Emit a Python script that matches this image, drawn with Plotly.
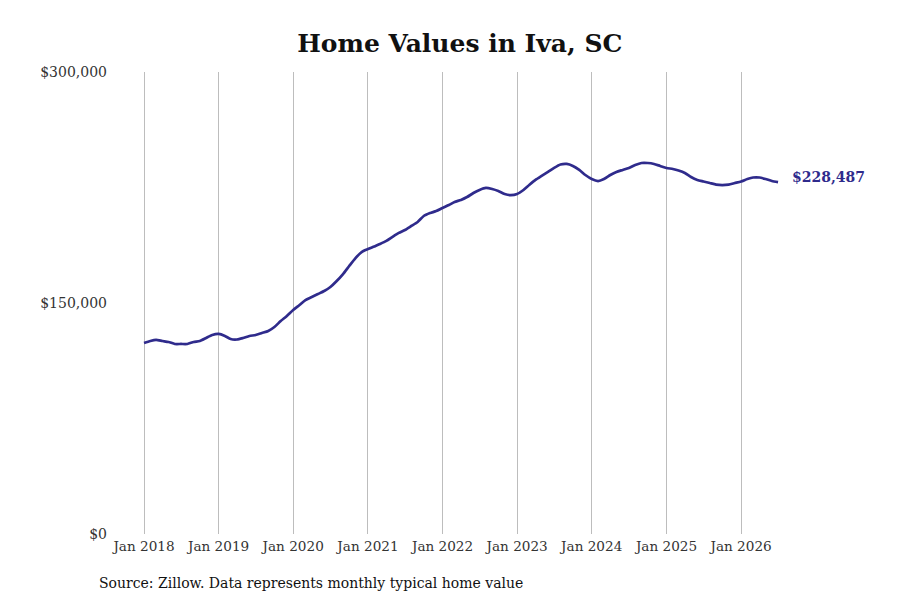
import plotly.graph_objects as go
import pandas as pd

dates = pd.date_range("2018-01-01", "2026-07-01", freq="MS")
values = [
    124.0, 125.3, 126.0, 125.3, 124.7, 123.4, 123.4, 123.4, 124.7, 125.3, 127.3, 129.2,
    129.9, 128.6, 126.6, 126.3, 127.3, 128.6, 129.2, 130.5, 131.8, 134.4, 138.3, 141.6,
    145.5, 148.7, 151.9, 153.9, 155.8, 157.8, 160.4, 164.3, 168.8, 174.0, 179.2, 183.1,
    185.0, 186.7, 188.3, 190.3, 192.9, 195.5, 197.4, 200.0, 202.6, 206.5, 208.4, 209.7,
    211.7, 213.6, 215.6, 216.9, 218.8, 221.4, 223.4, 224.7, 224.0, 222.7, 220.8, 220.1,
    220.8, 223.4, 226.6, 229.9, 232.5, 235.1, 237.7, 239.9, 240.3, 239.0, 236.4, 233.1,
    230.5, 229.2, 230.5, 233.1, 235.1, 236.4, 237.7, 239.6, 240.9, 240.9, 240.3, 239.0,
    237.7, 237.0, 236.0, 234.4, 231.8, 229.9, 228.9, 227.9, 226.9, 226.6, 226.9, 227.9,
    228.9, 230.5, 231.5, 231.5, 230.5, 229.2, 228.487,
]
values = [v * 1000 for v in values]
last_label = "$228,487"
tick_vals = [f"{y}-01-01" for y in range(2018, 2027)]
tick_text = [f"Jan {y}" for y in range(2018, 2027)]
y_ticks = [0, 150000, 300000]
y_text = ["$0", "$150,000", "$300,000"]

color = "#2f2b8c"
font = "DejaVu Serif, serif"

fig = go.Figure()
fig.add_trace(go.Scatter(
    x=dates, y=values, mode="lines",
    line=dict(color=color, width=2.7, shape="spline", smoothing=0.6),
    hoverinfo="skip", showlegend=False,
))
fig.add_annotation(
    x=dates[-1], y=values[-1], text=f"<b>{last_label}</b>", showarrow=False,
    xanchor="left", xshift=12, yshift=5, font=dict(family=font, size=14, color=color),
)
fig.add_annotation(
    xref="paper", yref="paper", x=-0.024, y=-0.105, xanchor="left", yanchor="middle",
    text="Source: Zillow. Data represents monthly typical home value", showarrow=False,
    font=dict(family=font, size=14, color="#111111"),
)
fig.update_layout(
    width=900, height=600,
    paper_bgcolor="white", plot_bgcolor="white",
    margin=dict(l=107, r=38, t=64, b=74),
    title=dict(text="<b>Home Values in Iva, SC</b>", x=0.502, xanchor="center", y=0.942, yanchor="middle",
               font=dict(family=font, size=25, color="#111111")),
    font=dict(family=font, size=14, color="#333333"),
    xaxis=dict(
        range=["2017-08-12", "2027-09-24"],
        tickvals=tick_vals, ticktext=tick_text,
        showgrid=True, gridcolor="#bdbdbd", gridwidth=1,
        showline=False, zeroline=False, ticks="", ticklabelstandoff=2,
        tickfont=dict(family=font, size=13.6, color="#333333"),
    ),
    yaxis=dict(
        range=[0, 300000], tickvals=y_ticks, ticktext=y_text,
        showgrid=False, zeroline=False, showline=False, ticks="",
        ticklabelstandoff=7,
        tickfont=dict(family=font, size=14, color="#333333"),
    ),
)
fig.write_html("out.html")
